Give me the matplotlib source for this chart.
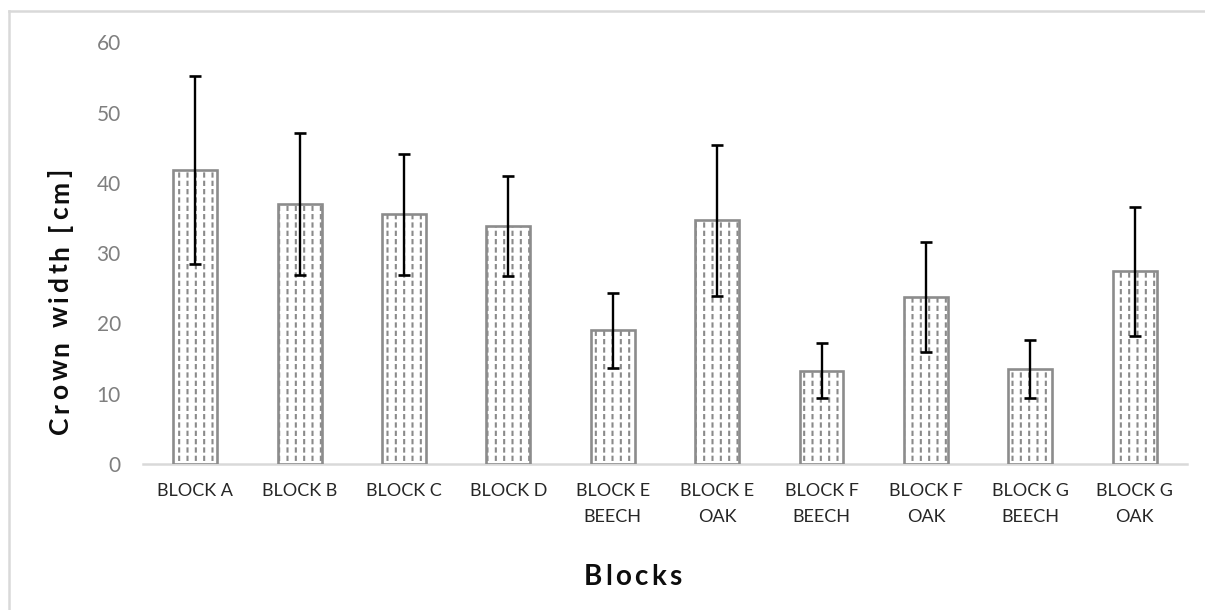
import matplotlib
matplotlib.use("Agg")
import matplotlib.pyplot as plt
from matplotlib.lines import Line2D
from matplotlib.transforms import offset_copy

categories = ["BLOCK A", "BLOCK B", "BLOCK C", "BLOCK D", "BLOCK E\nBEECH",
              "BLOCK E\nOAK", "BLOCK F\nBEECH", "BLOCK F\nOAK", "BLOCK G\nBEECH",
              "BLOCK G\nOAK"]
crown_width = [41.8, 37.0, 35.5, 33.8, 19.0, 34.7, 13.3, 23.8, 13.5, 27.4]
crown_sd = [13.4, 10.1, 8.6, 7.1, 5.3, 10.75, 3.9, 7.8, 4.1, 9.2]
y_ticks = [0, 10, 20, 30, 40, 50, 60]

FONT = ["Lato", "DejaVu Sans"]
DPI = 100

fig = plt.figure(figsize=(12.05, 6.10), dpi=DPI)
ax = fig.add_axes([0.1187, 0.2393, 0.8663, 0.6915])

x = range(len(categories))
width = 0.42

# base bars: white fill with grey vertical hatch
base = ax.bar(x, crown_width, width=width, color="white", edgecolor="#8a8a8a",
              linewidth=0, hatch="||", zorder=2)
# white horizontal hatch breaks the vertical lines into dashes
breaks = ax.bar(x, crown_width, width=width, color="none", edgecolor="white",
                linewidth=0, hatch="--", zorder=3)
for p in breaks:
    if hasattr(p, "set_hatch_linewidth"):
        p.set_hatch_linewidth(2.2)
for p in base:
    if hasattr(p, "set_hatch_linewidth"):
        p.set_hatch_linewidth(1.5)
# outlines
ax.bar(x, crown_width, width=width, color="none", edgecolor="#8c8c8c",
       linewidth=1.9, zorder=4)

ax.errorbar(x, crown_width, yerr=crown_sd, fmt="none", ecolor="black",
            elinewidth=1.7, capsize=4.6, capthick=1.9, zorder=5)

ax.set_xlim(-0.5, len(categories) - 0.5)
ax.set_ylim(0, 60)
ax.set_yticks(y_ticks)
ax.set_yticklabels([str(v) for v in y_ticks], family=FONT, fontsize=15,
                   color="#7f7f7f")
ax.set_xticks(list(x))
ax.set_xticklabels(categories, family=FONT, fontsize=13, color="#262626",
                   linespacing=1.7)
ax.tick_params(axis="both", length=0)
ax.tick_params(axis="x", pad=14)
ax.tick_params(axis="y", pad=16)

for s in ["top", "right", "left"]:
    ax.spines[s].set_visible(False)
ax.spines["bottom"].set_color("#d9d9d9")
ax.spines["bottom"].set_linewidth(1.8)


def spaced_text(s, cx, cy, spacing_px, rotation=0, **kw):
    """Draw a string with extra tracking between characters.

    (cx, cy) is the centre of the baseline in figure coordinates."""
    renderer = fig.canvas.get_renderer()
    widths = []
    for ch in s:
        t = fig.text(0, 0, ch if ch != " " else "n", **kw)
        w = t.get_window_extent(renderer).width
        if ch == " ":
            w *= 0.45
        widths.append(w)
        t.remove()
    total = sum(widths) + spacing_px * (len(s) - 1)
    pos = -total / 2
    for ch, w in zip(s, widths):
        mid = pos + w / 2
        dx, dy = (0, mid) if rotation == 90 else (mid, 0)
        tr = offset_copy(fig.transFigure, fig=fig, x=dx * 72 / DPI,
                         y=dy * 72 / DPI, units="points")
        if ch != " ":
            fig.text(cx, cy, ch, transform=tr, rotation=rotation,
                     rotation_mode="anchor", ha="center", va="baseline", **kw)
        pos += w + spacing_px


spaced_text("Crown width [cm]", 68 / 1205, 0.506, 3.6, rotation=90,
            family=FONT, fontsize=19, fontweight="bold", color="#0d0d0d")
spaced_text("Blocks", 0.525, 1 - 585 / 610, 3.4,
            family=FONT, fontsize=20, fontweight="bold", color="#0d0d0d")

# chart frame (top and left edges)
fig.add_artist(Line2D([9 / 1205, 1.0], [1 - 11 / 610, 1 - 11 / 610],
                      transform=fig.transFigure, color="#d9d9d9", linewidth=1.8))
fig.add_artist(Line2D([9 / 1205, 9 / 1205], [0.0, 1 - 11 / 610],
                      transform=fig.transFigure, color="#d9d9d9", linewidth=1.8))

fig.savefig("out.png", dpi=DPI, facecolor="white")
